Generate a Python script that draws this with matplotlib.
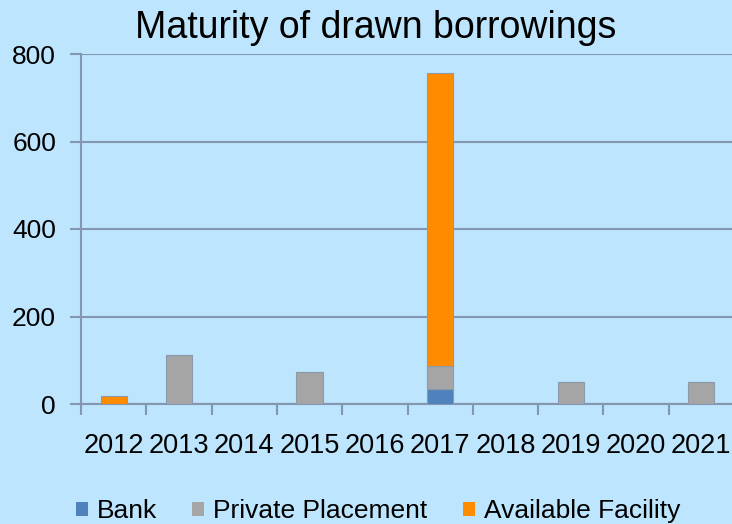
import matplotlib
matplotlib.use("Agg")
import matplotlib.pyplot as plt
import numpy as np
from matplotlib.patches import Patch

years = ["2012", "2013", "2014", "2015", "2016", "2017", "2018", "2019", "2020", "2021"]
bank = [0, 0, 0, 0, 0, 35, 0, 0, 0, 0]
private_placement = [0, 112, 0, 73, 0, 53, 0, 50, 0, 50]
available_facility = [18, 0, 0, 0, 0, 668, 0, 0, 0, 0]
series_names = ["Bank", "Private Placement", "Available Facility"]
y_ticks = [0, 200, 400, 600, 800]

BG = "#BDE5FD"
AX = "#8397B0"
colors = ["#4F81BD", "#A5A5A5", "#FF8C00"]
FONT = ["Liberation Sans", "DejaVu Sans"]
plt.rcParams["font.family"] = FONT

W, H = 732, 524
fig = plt.figure(figsize=(W / 100, H / 100), dpi=100, facecolor=BG)
ax = fig.add_axes([81 / W, (H - 404) / H, 653 / W, 350 / H], facecolor=BG)

x = np.arange(len(years))
bottom = np.zeros(len(years))
for vals, c in zip([bank, private_placement, available_facility], colors):
    vals = np.array(vals, dtype=float)
    ax.bar(x, vals, width=0.4, bottom=bottom, color=c, edgecolor="#8C9AAB",
           linewidth=0.8, zorder=3)
    bottom += vals

ax.set_xlim(-0.5, len(years) - 0.5)
ax.set_ylim(0, 800)
ax.set_yticks(y_ticks)
ax.set_yticklabels([str(v) for v in y_ticks])
ax.yaxis.grid(True, color=AX, linewidth=1.5, zorder=0)
ax.set_axisbelow(True)

ax.set_xticks(x)
ax.set_xticklabels(years)
ax.set_xticks(np.arange(len(years) + 1) - 0.5, minor=True)
ax.tick_params(axis="x", which="major", length=0, pad=21, labelsize=19.5)
ax.tick_params(axis="x", which="minor", length=8, width=1.5, color=AX, direction="out")
ax.tick_params(axis="y", length=8, width=1.5, color=AX, pad=10, labelsize=19)

for s in ["top", "right"]:
    ax.spines[s].set_visible(False)
for s in ["left", "bottom"]:
    ax.spines[s].set_color(AX)
    ax.spines[s].set_linewidth(1.5)

fig.text(375.5 / W, 1 - 28 / H, "Maturity of drawn borrowings", ha="center", va="center",
         fontsize=27, color="black")

handles = [Patch(facecolor=c, edgecolor="none") for c in colors]
fig.legend(handles, series_names, loc="center left", bbox_to_anchor=(76 / W, 1 - 511 / H),
           ncol=3, frameon=False, fontsize=19, handlelength=0.45, handleheight=0.45,
           handletextpad=0.33, columnspacing=1.35, borderpad=0, borderaxespad=0)

fig.savefig("out.png", dpi=100, facecolor=BG)
